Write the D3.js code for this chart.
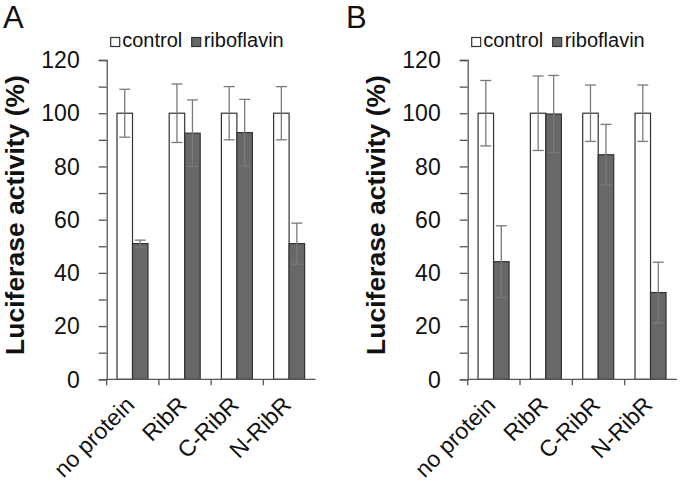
<!DOCTYPE html>
<html>
<head>
<meta charset="utf-8">
<script src="https://cdn.jsdelivr.net/npm/d3@7"></script>
<style>
  html, body { margin: 0; padding: 0; background: #fff; }
  svg { display: block; font-family: "Liberation Sans", Arial, sans-serif; }
</style>
</head>
<body>
<svg id="chart" width="680" height="481"></svg>
<script>
// ---- data ----
const categories = ["no protein", "RibR", "C-RibR", "N-RibR"];
const seriesNames = ["control", "riboflavin"];
const yTicks = [0, 20, 40, 60, 80, 100, 120];
const yMinorTicks = [10, 30, 50, 70, 90, 110];

const controlA = [100, 100, 100, 100];
const controlErrA = [9, 11, 10, 10];
const riboA = [51, 92.5, 92.7, 51];
const riboErrA = [1.3, 12.5, 12.5, 7.7];

const controlB = [100, 100, 100, 100];
const controlErrB = [12.3, 14, 10.6, 10.6];
const riboB = [44.2, 99.7, 84.4, 32.6];
const riboErrB = [13.5, 14.5, 11.4, 11.4];

const panels = [
  { letter: "A", control: controlA, controlErr: controlErrA, ribo: riboA, riboErr: riboErrA, x0: 106.7, x1: 315.5, letterX: 3 },
  { letter: "B", control: controlB, controlErr: controlErrB, ribo: riboB, riboErr: riboErrB, x0: 467.7, x1: 677, letterX: 346 }
];

const svg = d3.select("#chart");
const y = d3.scaleLinear().domain([0, 120]).range([379.3, 60]);
const axisColor = "#555";
const barStroke = "#333";
const riboFill = "#686868";
const errColor = "#7a7a7a";
const fills = { control: "#fff", riboflavin: riboFill };
const FONT = "'Liberation Sans', Arial, sans-serif";

panels.forEach(p => {
  const g = svg.append("g");
  const x = d3.scaleBand().domain(categories).range([p.x0, p.x1]).padding(0);
  const xs = d3.scaleBand().domain(seriesNames).range([-15.8, 15.2]).padding(0);

  // panel letter
  g.append("text").attr("x", p.letterX).attr("y", 28)
    .attr("font-size", 31).attr("fill", "#111").attr("font-family", FONT).text(p.letter);

  // y axis title
  g.append("text")
    .attr("transform", `translate(${p.x0 - 83},215) rotate(-90)`)
    .attr("text-anchor", "middle")
    .attr("font-size", 26.5).attr("font-weight", "bold").attr("fill", "#111").attr("font-family", FONT)
    .text("Luciferase activity (%)");

  // y axis (ticks via d3 axis, labels drawn with the same scale)
  const yAxis = d3.axisLeft(y).tickValues(yTicks).tickSize(8).tickFormat("");
  const ya = g.append("g").attr("transform", `translate(${p.x0},0)`).call(yAxis);
  ya.select(".domain").attr("stroke", axisColor).attr("stroke-width", 1.3);
  ya.selectAll(".tick line").attr("stroke", axisColor).attr("stroke-width", 1.3);
  const yMinor = d3.axisLeft(y).tickValues(yMinorTicks).tickSize(8).tickFormat("");
  const ym = g.append("g").attr("transform", `translate(${p.x0},0)`).call(yMinor);
  ym.select(".domain").remove();
  ym.selectAll(".tick line").attr("stroke", axisColor).attr("stroke-width", 1.3);
  g.append("g").selectAll("text").data(yTicks).join("text")
    .attr("x", p.x0 - 27).attr("y", d => y(d)).attr("dy", "0.36em")
    .attr("text-anchor", "end").attr("font-size", 23).attr("fill", "#111").attr("font-family", FONT)
    .text(d => d);

  // bars
  const rows = categories.map((c, i) => [
    { cat: c, s: "control", v: p.control[i], e: p.controlErr[i] },
    { cat: c, s: "riboflavin", v: p.ribo[i], e: p.riboErr[i] }
  ]).flat();

  g.selectAll("rect.bar").data(rows).join("rect")
    .attr("class", "bar")
    .attr("x", d => x(d.cat) + x.bandwidth() / 2 + xs(d.s))
    .attr("width", xs.bandwidth())
    .attr("y", d => y(d.v))
    .attr("height", d => y(0) - y(d.v))
    .attr("fill", d => fills[d.s])
    .attr("stroke", barStroke).attr("stroke-width", 1.2);

  // error bars
  const cx = d => x(d.cat) + x.bandwidth() / 2 + xs(d.s) + xs.bandwidth() / 2;
  const eg = g.append("g").attr("stroke", errColor).attr("stroke-width", 1.3);
  eg.selectAll("line.v").data(rows).join("line")
    .attr("x1", cx).attr("x2", cx)
    .attr("y1", d => y(d.v + d.e)).attr("y2", d => y(d.v - d.e));
  eg.selectAll("line.t").data(rows).join("line")
    .attr("x1", d => cx(d) - 5.5).attr("x2", d => cx(d) + 5.5)
    .attr("y1", d => y(d.v + d.e)).attr("y2", d => y(d.v + d.e));
  eg.selectAll("line.b").data(rows).join("line")
    .attr("x1", d => cx(d) - 5.5).attr("x2", d => cx(d) + 5.5)
    .attr("y1", d => y(d.v - d.e)).attr("y2", d => y(d.v - d.e));

  // x axis
  const xa = g.append("g").attr("transform", `translate(0,${y(0)})`);
  xa.append("line").attr("x1", p.x0).attr("x2", p.x1).attr("y1", 0).attr("y2", 0)
    .attr("stroke", axisColor).attr("stroke-width", 1.3);
  xa.selectAll("line.xt").data(categories).join("line")
    .attr("x1", d => x(d)).attr("x2", d => x(d)).attr("y1", 0).attr("y2", 6)
    .attr("stroke", axisColor).attr("stroke-width", 1.3);
  xa.selectAll("text").data(categories).join("text")
    .attr("transform", d => `translate(${x(d) + x.bandwidth() / 2 + 3},27) rotate(-45)`)
    .attr("text-anchor", "end")
    .attr("font-size", 23).attr("fill", "#111").attr("font-family", FONT)
    .text(d => d);

  // legend
  const lg = g.append("g");
  const legendItems = [
    { s: "control", sx: p.x0 + 4, tx: p.x0 + 15.5 },
    { s: "riboflavin", sx: p.x0 + 85, tx: p.x0 + 97 }
  ];
  legendItems.forEach(it => {
    lg.append("rect").attr("x", it.sx).attr("y", 37.5).attr("width", 9).attr("height", 9)
      .attr("fill", fills[it.s]).attr("stroke", barStroke).attr("stroke-width", 1.2);
    lg.append("text").attr("x", it.tx).attr("y", 47).attr("font-size", 20).attr("fill", "#111")
      .attr("font-family", FONT).text(it.s);
  });
});
</script>
</body>
</html>
